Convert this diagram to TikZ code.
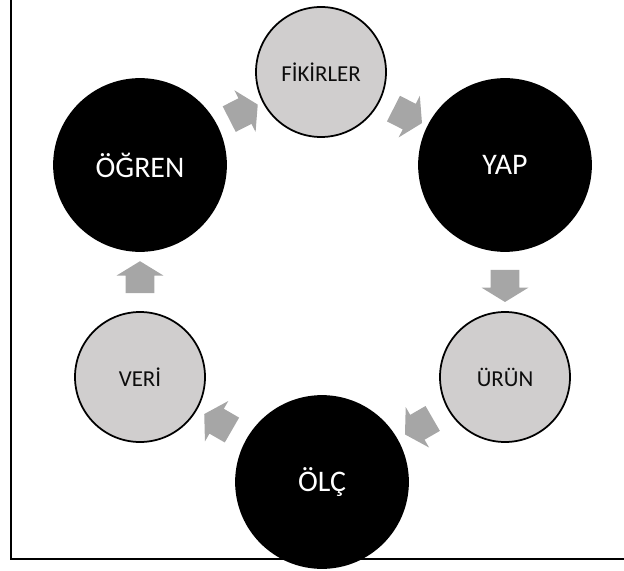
\documentclass[tikz,border=0pt]{standalone}
\usepackage{fontspec}
\setmainfont{Carlito}
\usepackage{xcolor}
\usetikzlibrary{calc,shapes.arrows,positioning}

\definecolor{dairegri}{HTML}{D0CECE}
\definecolor{okgri}{HTML}{A6A6A6}

\begin{document}
\begin{tikzpicture}[
        buyukdaire/.style={
            circle, fill=black, draw=black, line width=1pt,
            minimum size=3.44cm, inner sep=0pt,
            text=white, font=\fontsize{17}{20}\selectfont
        },
        kucukdaire/.style={
            circle, fill=dairegri, draw=black, line width=1pt,
            minimum size=2.6cm, inner sep=0pt,
            text=black!95, font=\fontsize{13}{15}\selectfont
        },
        blokok/.style={
            single arrow, fill=okgri, draw=none,
            inner xsep=0pt, inner ysep=0.28cm,
            minimum height=0.64cm,
            single arrow head extend=0.18cm, single arrow tip angle=117
        }
    ]

    \useasboundingbox (0,0) rectangle (12.48,11.4);

    % cerceve (ust ve sag kenar disarida)
    \draw[line width=1pt] (0.22,11.4) -- (0.22,0.22) -- (12.48,0.22);

    % daireler
    \node[kucukdaire] (fikirler) at (6.42,9.96) {FİKİRLER};
    \node[buyukdaire] (yap) at (10.10,8.10) {YAP};
    \node[kucukdaire] (urun) at (10.10,3.86) {ÜRÜN};
    \node[buyukdaire] (olc) at (6.44,1.76) {ÖLÇ};
    \node[kucukdaire] (veri) at (2.80,3.86) {VERİ};
    \node[buyukdaire] (ogren) at (2.80,8.10) {ÖĞREN};

    % dongu oklari
    \node[blokok, rotate=27] (ok1) at ($(ogren)!0.55!(fikirler)$) {};
    \node[blokok, rotate=-27] (ok2) at ($(fikirler)!0.45!(yap)$) {};
    \node[blokok, rotate=-90] (ok3) at ($(yap)!0.55!(urun)$) {};
    \node[blokok, rotate=-150] (ok4) at ($(urun)!0.45!(olc)$) {};
    \node[blokok, rotate=150] (ok5) at ($(olc)!0.55!(veri)$) {};
    \node[blokok, rotate=90] (ok6) at ($(veri)!0.45!(ogren)$) {};

\end{tikzpicture}
\end{document}
